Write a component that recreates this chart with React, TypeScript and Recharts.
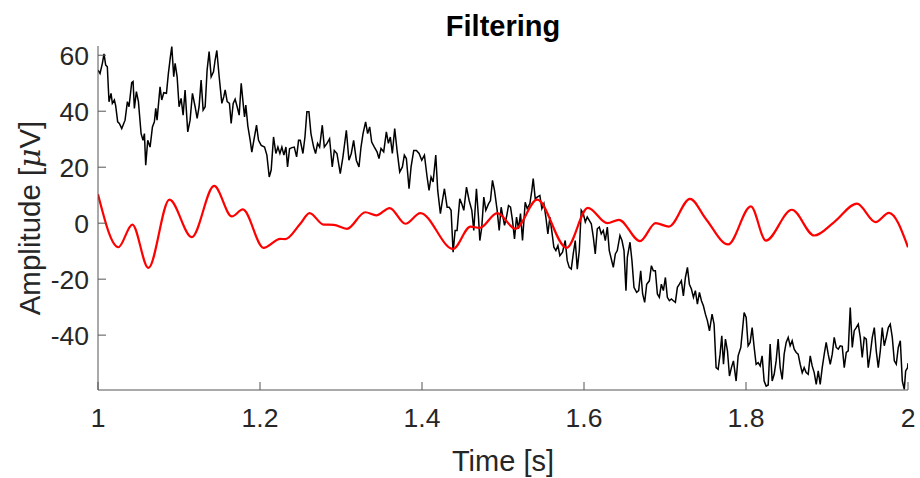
import { LineChart, Line, XAxis, YAxis } from 'recharts';

// raw trace (black): time [s] and amplitude [µV]
const rawTime = [
  1.0, 1.0025, 1.0054, 1.0074, 1.0095, 1.0115, 1.0136, 1.0161, 1.0177, 1.0202,
  1.0218, 1.0243, 1.0264, 1.0293, 1.0334, 1.0363, 1.0383, 1.0416, 1.0433, 1.0449,
  1.0474, 1.0499, 1.0532, 1.0556, 1.0573, 1.0589, 1.0614, 1.0643, 1.0672, 1.0696,
  1.0713, 1.0729, 1.0766, 1.0787, 1.0812, 1.0845, 1.0869, 1.0894, 1.0911, 1.0935,
  1.0952, 1.0977, 1.1001, 1.1026, 1.1051, 1.1075, 1.1108, 1.1137, 1.1166, 1.1199,
  1.1224, 1.1248, 1.1273, 1.1298, 1.1323, 1.1347, 1.1372, 1.1397, 1.1426, 1.1446,
  1.1467, 1.1496, 1.1529, 1.1553, 1.157, 1.1595, 1.1623, 1.1644, 1.1669, 1.1693,
  1.1718, 1.1743, 1.1768, 1.1792, 1.1809, 1.1825, 1.185, 1.1879, 1.1899, 1.1924,
  1.1957, 1.1982, 1.2015, 1.2056, 1.2085, 1.2114, 1.2138, 1.2167, 1.2196, 1.2221,
  1.2246, 1.227, 1.2295, 1.232, 1.234, 1.2365, 1.2394, 1.2423, 1.2452, 1.2476,
  1.2497, 1.253, 1.2555, 1.2579, 1.2604, 1.2629, 1.2662, 1.2686, 1.2711, 1.2736,
  1.2769, 1.2794, 1.2827, 1.2859, 1.2892, 1.2917, 1.295, 1.2991, 1.3024, 1.3066,
  1.3098, 1.3127, 1.3156, 1.3189, 1.3222, 1.3247, 1.3272, 1.3304, 1.3329, 1.3354,
  1.3379, 1.3412, 1.3445, 1.3469, 1.3494, 1.3527, 1.356, 1.3585, 1.3609, 1.3634,
  1.3663, 1.3692, 1.3725, 1.3758, 1.3782, 1.3807, 1.384, 1.3865, 1.3898, 1.3931,
  1.3964, 1.3997, 1.403, 1.4063, 1.4087, 1.4112, 1.4137, 1.417, 1.4194, 1.4227,
  1.4252, 1.4277, 1.431, 1.4335, 1.4359, 1.4384, 1.4409, 1.4433, 1.4466, 1.4491,
  1.4516, 1.4549, 1.4582, 1.4615, 1.4639, 1.4672, 1.4697, 1.4714, 1.4738, 1.4763,
  1.4788, 1.4821, 1.4845, 1.487, 1.4895, 1.4928, 1.4953, 1.4977, 1.5019, 1.5043,
  1.5068, 1.5093, 1.5117, 1.5142, 1.5167, 1.5192, 1.5216, 1.5241, 1.5274, 1.5299,
  1.5332, 1.5356, 1.5373, 1.5398, 1.5422, 1.5455, 1.548, 1.5505, 1.5529, 1.5554,
  1.5579, 1.5604, 1.5628, 1.5653, 1.5678, 1.5702, 1.5735, 1.5768, 1.5793, 1.5818,
  1.5843, 1.5867, 1.5892, 1.5917, 1.5942, 1.5966, 1.5991, 1.6016, 1.604, 1.6065,
  1.609, 1.6115, 1.6139, 1.6164, 1.6189, 1.6213, 1.6238, 1.6263, 1.6288, 1.6312,
  1.6337, 1.6362, 1.6387, 1.6411, 1.6444, 1.6469, 1.6494, 1.6518, 1.6535, 1.6568,
  1.6592, 1.6617, 1.665, 1.6675, 1.67, 1.6724, 1.6749, 1.6774, 1.6807, 1.6832,
  1.6856, 1.6881, 1.6906, 1.693, 1.6955, 1.698, 1.7005, 1.7029, 1.7054, 1.7079,
  1.7103, 1.7128, 1.7153, 1.7178, 1.7202, 1.7227, 1.7252, 1.7277, 1.7301, 1.7326,
  1.7351, 1.7375, 1.74, 1.7425, 1.745, 1.7474, 1.7499, 1.7524, 1.7549, 1.7581,
  1.7606, 1.7631, 1.7656, 1.768, 1.7701, 1.7722, 1.7746, 1.7771, 1.7796, 1.782,
  1.7845, 1.7878, 1.7903, 1.7936, 1.7977, 1.8002, 1.8026, 1.8051, 1.8076, 1.8101,
  1.8125, 1.815, 1.8175, 1.8199, 1.8224, 1.8249, 1.8274, 1.8298, 1.8323, 1.8348,
  1.8372, 1.8397, 1.8422, 1.8447, 1.8471, 1.8496, 1.8521, 1.8545, 1.857, 1.8595,
  1.862, 1.8644, 1.8669, 1.8694, 1.8718, 1.8743, 1.8768, 1.8793, 1.8817, 1.8842,
  1.8867, 1.8892, 1.8916, 1.8941, 1.8966, 1.899, 1.9015, 1.904, 1.9065, 1.9089,
  1.9114, 1.9139, 1.9163, 1.9188, 1.9213, 1.9238, 1.9262, 1.9287, 1.9312, 1.9336,
  1.9361, 1.9386, 1.9411, 1.9435, 1.946, 1.9485, 1.9509, 1.9534, 1.9559, 1.9584,
  1.9608, 1.9633, 1.9658, 1.9682, 1.9707, 1.9732, 1.9757, 1.9781, 1.9806, 1.9831,
  1.9855, 1.988, 1.9905, 1.993, 1.9954, 1.9971, 1.9995, 2.0,
];
const rawValue = [
  54.7, 53.5, 57.1, 60.5, 56.5, 55.9, 43.4, 46.4, 42.8, 44,
  42, 36.2, 35.6, 33.8, 36.8, 43.4, 41.6, 50.2, 50.6, 41,
  47, 43.4, 32, 29.6, 32, 20.7, 29.6, 27.2, 34.4, 36.2,
  41, 36.8, 48.7, 44, 46.6, 46.4, 53.5, 59.5, 63.1, 52.3,
  57.1, 52.3, 41.6, 44.6, 38.6, 47.6, 32.6, 36.8, 46.4, 41.6,
  37.4, 41.6, 51.1, 40.4, 41.6, 54.7, 61.3, 52.3, 54.1, 58.3,
  61.7, 52.3, 42.8, 45.2, 47.6, 43.4, 42.8, 35.6, 42.8, 44.3,
  41.6, 38.6, 50, 42.8, 38, 42.2, 34.7, 29.6, 25.4, 29.6,
  35, 29.6, 27.8, 27.2, 24.3, 16.5, 19, 30.8, 24.9, 27.2,
  24.9, 27.2, 24.3, 27.2, 20.1, 26.6, 27, 27.2, 23.7, 29.6,
  29.6, 24.9, 30.8, 39.8, 39.8, 32, 27.2, 24.9, 28.5, 27.2,
  35, 27.2, 28.5, 30.2, 20.1, 26, 24.9, 17.7, 23.7, 33.2,
  22.5, 24.9, 29.6, 22.5, 20.1, 27.2, 32, 36.2, 32, 34.4,
  29, 27.2, 25.5, 23.1, 26.7, 25.5, 32.6, 28.5, 30.8, 24.9,
  33.8, 26, 18.3, 20.1, 24.3, 23.1, 12.3, 20.1, 26, 26,
  24.9, 22.5, 24.3, 16.5, 11.7, 16.5, 14.7, 24.3, 11.7, 3.4,
  8.1, 12.3, 5.7, 5.7, 4.6, -10.4, -2.6, -2.6, 8.7, 6.9,
  4.6, 12.9, 8.1, 4.6, -2.6, 12.3, 2.2, -6.2, -1.4, 9.3,
  4.6, 6.9, 8.1, 15.3, 11.7, 4.6, -2.6, 5.7, -0.8, 2.2,
  6.3, 5.7, 1.0, -5.6, 2.2, -2, 3.4, -6.2, 7.5, 5.2,
  7, 11.7, 15.9, 8.7, 9.3, 9.9, 5.2, 7, 2.2, -3.8,
  2.2, -3.2, -8.6, -9.8, -8, -11.6, -10.4, -6.2, -13.4, -15.8,
  -16.4, -11, -6.2, -16.4, -9.8, 4.6, 3.4, 0.4, 2.2, 1,
  -0.2, -5, -11, -2, -1.4, -3.8, -2.6, -6.2, -1.4, -9.8,
  -12.8, -15.8, -11, -9.8, -4.4, -6.2, -9.8, -24.1, -12.2, -6.8,
  -13.4, -22.9, -24.7, -24.1, -17, -25.3, -28.3, -21.8, -20.6, -15.2,
  -17, -17, -25.3, -26.5, -21.8, -24.1, -19.4, -26.5, -27.7, -27.1,
  -27.7, -28.3, -22.9, -21.8, -20.6, -26, -19.4, -15.8, -21.8, -23.5,
  -26.5, -24.1, -28.9, -24.7, -27.7, -29.5, -32.5, -34.9, -38.5, -32.5,
  -36.1, -51.6, -52.2, -46.8, -40.2, -50.4, -41.4, -45.6, -54.6, -51.6,
  -49.2, -56.4, -47.4, -44.4, -31.9, -33.7, -43.8, -42.6, -37.3, -44.4,
  -50.4, -49.8, -51, -47.4, -56.4, -58.2, -57.8, -43.2, -56.4, -54,
  -49.2, -41.4, -51.6, -55.8, -46.8, -42.6, -40.8, -43.8, -42, -45,
  -46.2, -46.8, -50.4, -53.4, -51.6, -53.4, -54, -47.4, -51, -53.4,
  -57.6, -52.8, -57.6, -51.6, -46.8, -42.6, -46.8, -50.4, -46.8, -40.8,
  -44.4, -45, -43.8, -44, -51.6, -46.2, -45.6, -30.1, -44.4, -38.4,
  -37.3, -36.1, -40.8, -48, -40.8, -41.4, -51.6, -46.8, -40.8, -37.3,
  -45.6, -51.6, -45.6, -37.3, -43.8, -40.8, -37.3, -36.1, -40.8, -49.2,
  -50.4, -44.4, -42, -56.4, -59.4, -52.8, -51.6, -50,
];

// filtered trace (red): turning points
const filtTime = [
  1.0, 1.0251, 1.0424, 1.0622, 1.0882, 1.1158, 1.1434, 1.1652, 1.1788, 1.2044,
  1.225, 1.2312, 1.2497, 1.2612, 1.2785, 1.2909, 1.3074, 1.33, 1.3436, 1.3601,
  1.3795, 1.398, 1.4384, 1.4598, 1.4713, 1.4928, 1.5154, 1.5422, 1.5785, 1.6048,
  1.6288, 1.6431, 1.6691, 1.6885, 1.7049, 1.7309, 1.7503, 1.7779, 1.806, 1.8245,
  1.8566, 1.8842, 1.9089, 1.937, 1.96, 1.9765, 2.0,
];
const filtValue = [
  10.3, -8.6, -0.5, -16, 8.4, -5, 13.3, 2.4, 4.9, -8.8,
  -5.6, -5.7, -0.2, 3.6, -0.5, -0.6, -2, 3.9, 2.8, 5.4,
  -0.2, 3.6, -9.2, -1.2, -1.7, 3.6, -2, 8.4, -8.8, 5.5,
  0, 1.2, -6.4, 0, -1.2, 8.7, 1.6, -7.6, 6, -6.2,
  4.8, -4.4, 0.4, 7, 0.4, 3.7, -8.6,
];

const xTicks = [1, 1.2, 1.4, 1.6, 1.8, 2];
const yTicks = [-40, -20, 0, 20, 40, 60];

const rawData = rawTime.map((t, i) => ({ t, v: rawValue[i] }));
const filtData = filtTime.map((t, i) => ({ t, v: filtValue[i] }));

const FONT = "'Liberation Sans', Arial, Helvetica, sans-serif";
const AXIS_COLOR = '#555';
const TEXT_COLOR = '#262626';

export default function App() {
  return (
    <div style={{ position: 'fixed', left: 0, top: 0, width: 920, height: 478, background: '#fff', fontFamily: FONT }}>
      <div
        style={{
          position: 'absolute', left: 98, width: 810, top: 10, textAlign: 'center',
          fontWeight: 'bold', fontSize: 29, color: '#000',
        }}
      >
        Filtering
      </div>
      <div
        style={{
          position: 'absolute', left: 30, top: 218, width: 0, height: 0,
        }}
      >
        <div
          style={{
            position: 'absolute', transform: 'translate(-50%, -50%) rotate(-90deg)',
            whiteSpace: 'nowrap', fontSize: 29.5, color: TEXT_COLOR, lineHeight: 1,
          }}
        >
          Amplitude [<i style={{ fontFamily: "'DejaVu Serif', serif" }}>μ</i>V]
        </div>
      </div>
      <div
        style={{
          position: 'absolute', left: 98, width: 810, top: 445, textAlign: 'center',
          fontSize: 29, color: TEXT_COLOR,
        }}
      >
        Time [s]
      </div>
      <LineChart width={920} height={478} margin={{ top: 46, right: 12, bottom: 0, left: 0 }}>
        <XAxis
          type="number"
          dataKey="t"
          domain={[1, 2]}
          ticks={xTicks}
          allowDataOverflow
          height={88}
          tickSize={-8}
          tickMargin={26}
          stroke={AXIS_COLOR}
          tick={{ fill: TEXT_COLOR, fontSize: 26.5, fontFamily: FONT }}
          tickFormatter={(v: number) => String(Number(v.toFixed(1)))}
        />
        <YAxis
          type="number"
          domain={[-59.6, 63.3]}
          ticks={yTicks}
          allowDataOverflow
          width={98}
          tickSize={-8}
          tickMargin={17}
          stroke={AXIS_COLOR}
          tick={{ fill: TEXT_COLOR, fontSize: 26.5, fontFamily: FONT }}
        />
        <Line
          data={rawData}
          dataKey="v"
          type="linear"
          stroke="#000"
          strokeWidth={1.5}
          dot={false}
          isAnimationActive={false}
        />
        <Line
          data={filtData}
          dataKey="v"
          type="monotone"
          stroke="#ff0000"
          strokeWidth={2.2}
          dot={false}
          isAnimationActive={false}
        />
      </LineChart>
    </div>
  );
}
